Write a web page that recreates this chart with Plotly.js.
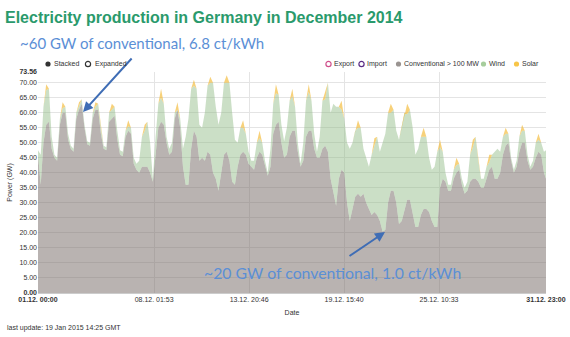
<!DOCTYPE html>
<html>
<head>
<meta charset="utf-8">
<script src="https://cdn.plot.ly/plotly-3.0.1.min.js"></script>
<style>html,body{margin:0;padding:0;background:#fff;}#chart{width:570px;height:337px;}</style>
</head>
<body>
<div id="chart"></div>
<script>
// sample hours within each day (4-hourly), last point 31.12. 23:00
const sampleHours = [0, 4, 8, 12, 16, 20];

// Conventional > 100 MW (GW)
const conventional = [
46,36,50,56,57,48,
45,44,56,60,60,51,
48,47,58,61,63,55,
49.5,49,58,61,61,53,
48,47.5,57,58,59,51,
46,45.5,52,54,53,43,
41,40,42,42,42,40,
37,46,55,57,56,50,
46,47,58,61,55,42,
36,36,48,54,52,44,
45,44,47,46,40,38,
34,40,46,47,44,37,
36,42,46,47,46,43,
42,41,45,47,46,42,
39,42,53,56,57,50,
45,46,52,54,54,47,
42,44,52,54,54,48,
45,45,48,49,47,38,
33,29,38,41,40,30,
24,28,32,33,32,33,
30,28,26,27,26,24,
20.5,21,30,34,34,30,
23,24,28,31,31,27,
22,22,26,28,28,27,
24,22,22,35,38,37,
34,34,38,40,41,36,
33,34,37,38,38,37,
35,35,38,41,42,38,
38,40,46,49,50,44,
40,42,47,50,50,44,
41,42,45,47,46,40,
38];

// Wind (GW)
const wind = [
1.5,10,12,11.5,11,4,
1,1,2,1.5,2,2,
1,1,2,1,1.5,1,
1,1,2,1,2,2,
1,1,3,3,3,3,
1.5,1.5,2,1.5,2,2,
2,4,10,12,15,10,
1,6,8,8,7,2,
2,3,2,0,3,6,
16,22,20,15,16,12,
10,16,22,24,30,24,
22,20,24,23,26,23,
15,8,9,8,7,4,
2,3,5,4.5,4,2,
1,6,10,10.5,9,6,
5.5,9,12,11.5,8,3,
1,6,12,13,10,5,
2,7,16,15.5,23,22,
30,33,24,20,18,20,
24,22,22,22,23,15,
15,14,20,22.5,26,23,
29.5,32,30,26,27,24,
28,31,32,28.5,30,28,
24,26,26,24,24,18,
17,20,25,13.5,9,3,
2,2,3,2.5,2,2,
2,3,9,10.5,14,7,
3,3,4,2.5,4,9,
10,7,6,4,3,1,
1,2,5,4,4,2,
1,2,5,4,4,7,
9.5];

// Solar (GW)
const solar = [
0,0,0,2,0,0,
0,0,0,2,0,0,
0,0,0,1.5,0,0,
0,0,0,1.5,0,0,
0,0,0,2,0,0,
0,0,0,2,0,0,
0,0,0,2,0,0,
0,0,0,3,0,0,
0,0,0,2.5,0,0,
0,0,0,2,0,0,
0,0,0,2,0,0,
0,0,0,2.5,0,0,
0,0,0,2.5,0,0,
0,0,0,2.5,0,0,
0,0,0,3,0,0,
0,0,0,2.5,0,0,
0,0,0,2.5,0,0,
0,0,0,2.5,0,0,
0,0,0,3,0,0,
0,0,0,2.5,0,0,
0,0,0,2,0,0,
0,0,0,3,0,0,
0,0,0,3.5,0,0,
0,0,0,3,0,0,
0,0,0,2.5,0,0,
0,0,0,2.5,0,0,
0,0,0,2.5,0,0,
0,0,0,2.5,0,0,
0,0,0,2,0,0,
0,0,0,2,0,0,
0,0,0,2,0,0,
0];

const xTickVals = ['2014-12-01 00:00','2014-12-08 01:53','2014-12-13 20:46','2014-12-19 15:40','2014-12-25 10:33','2014-12-31 23:00'];
const xTickText = ['<b>01.12. 00:00</b>','08.12. 01:53','13.12. 20:46','19.12. 15:40','25.12. 10:33','<b>31.12. 23:00</b>'];
const yTickVals = [0,5,10,15,20,25,30,35,40,45,50,55,60,65,70,73.56];
const yTickText = ['<b>0.00</b>','5.00','10.00','15.00','20.00','25.00','30.00','35.00','40.00','45.00','50.00','55.00','60.00','65.00','70.00','<b>73.56</b>'];

// time axis
const times = [];
for (let d = 1; d <= 31; d++) {
  for (const h of sampleHours) {
    times.push('2014-12-' + String(d).padStart(2,'0') + ' ' + String(h).padStart(2,'0') + ':00');
  }
}
times.push('2014-12-31 23:00');

// pixel helpers for layout placement
const L = 38, R = 546, T = 72, B = 293;
const PX = p => (p - L) / (R - L);
const PY = p => (B - p) / (B - T);

const font = 'Liberation Sans, Arial, sans-serif';
const txt = '#333';

const traces = [
  {x: times, y: conventional, name: 'Conventional > 100 MW', type: 'scatter', mode: 'lines', stackgroup: 'a',
   line: {width: 0, color: 'rgb(150,142,138)'}, fillcolor: 'rgba(120,110,105,0.52)'},
  {x: times, y: wind, name: 'Wind', type: 'scatter', mode: 'lines', stackgroup: 'a',
   line: {width: 0, color: 'rgb(160,200,150)'}, fillcolor: 'rgba(140,185,128,0.45)'},
  {x: times, y: solar, name: 'Solar', type: 'scatter', mode: 'lines', stackgroup: 'a',
   line: {width: 0, color: 'rgb(245,195,70)'}, fillcolor: 'rgba(242,185,50,0.65)'}
];

function legendText(t, px, py) {
  return {text: t, xref: 'paper', yref: 'paper', x: PX(px), y: PY(py), xanchor: 'left', yanchor: 'middle',
          showarrow: false, font: {family: font, size: 7, color: txt}};
}
function circ(cx, cy, filled, color) {
  const r = 2.6;
  return {type: 'circle', xref: 'paper', yref: 'paper',
          x0: PX(cx - r), x1: PX(cx + r), y0: PY(cy + r), y1: PY(cy - r),
          line: {color: color, width: filled ? 0 : 1.2},
          fillcolor: filled ? color : 'rgba(0,0,0,0)'};
}

const layout = {
  width: 570, height: 337,
  margin: {l: L, r: 570 - R, t: T, b: 337 - B, pad: 0},
  paper_bgcolor: '#fff', plot_bgcolor: '#fff',
  showlegend: false,
  title: {text: '<b>Electricity production in Germany in December 2014</b>', xref: 'container', yref: 'container',
          x: 5/570, xanchor: 'left', y: 1 - 17/337, yanchor: 'middle',
          font: {family: font, size: 16, color: '#2a9a6c'}},
  xaxis: {type: 'date', range: ['2014-12-01 00:00', '2014-12-31 23:00'],
          tickmode: 'array', tickvals: xTickVals, ticktext: xTickText,
          tickfont: {family: font, size: 7, color: txt}, ticks: '',
          showgrid: true, gridcolor: '#e4e4e4', gridwidth: 1,
          showline: true, linecolor: '#cccccc', linewidth: 1, zeroline: false,
          title: {text: 'Date', font: {family: font, size: 7, color: txt}, standoff: 7}},
  yaxis: {range: [0, 73.56], tickmode: 'array', tickvals: yTickVals, ticktext: yTickText,
          tickfont: {family: font, size: 7, color: txt}, ticks: '',
          showgrid: true, gridcolor: '#e4e4e4', gridwidth: 1, zeroline: false, showline: false,
          title: {text: 'Power (GW)', font: {family: font, size: 7, color: txt}, standoff: 6}},
  shapes: [
    circ(48, 64, true, '#333333'),
    circ(88, 64, false, '#333333'),
    circ(328.5, 64, false, '#d0508c'),
    circ(361.5, 64, false, '#5a2c86'),
    circ(398.5, 64, true, '#9a9491'),
    circ(483.5, 64, true, '#a6cd9c'),
    circ(516.5, 64, true, '#f7c548')
  ],
  annotations: [
    {text: '~60 GW of conventional, 6.8 ct/kWh', xref: 'paper', yref: 'paper', x: PX(18), y: PY(42.5),
     xanchor: 'left', yanchor: 'middle', showarrow: false, font: {family: 'Lato, sans-serif', size: 15, color: '#5b8fd6'}},
    {text: '~20 GW of conventional, 1.0 ct/kWh', xref: 'paper', yref: 'paper', x: PX(202), y: PY(272),
     xanchor: 'left', yanchor: 'middle', showarrow: false, font: {family: 'Lato, sans-serif', size: 15.8, color: '#5b8fd6'}},
    {text: '', xref: 'paper', yref: 'paper', x: PX(83), y: PY(112), ax: 50, ay: -55,
     showarrow: true, arrowhead: 2, arrowsize: 1, arrowwidth: 2, arrowcolor: '#3f6db5', standoff: 0},
    {text: '', xref: 'paper', yref: 'paper', x: PX(385), y: PY(232), ax: -37, ay: 25,
     showarrow: true, arrowhead: 2, arrowsize: 1, arrowwidth: 2, arrowcolor: '#3f6db5', standoff: 0},
    legendText('Stacked', 52, 64),
    legendText('Expanded', 93, 64),
    legendText('Export', 332, 64),
    legendText('Import', 365, 64),
    legendText('Conventional > 100 MW', 402, 64),
    legendText('Wind', 487, 64),
    legendText('Solar', 520, 64),
    legendText('last update: 19 Jan 2015 14:25 GMT', 5, 328)
  ]
};

Plotly.newPlot('chart', traces, layout, {displayModeBar: false, staticPlot: true});
</script>
</body>
</html>
